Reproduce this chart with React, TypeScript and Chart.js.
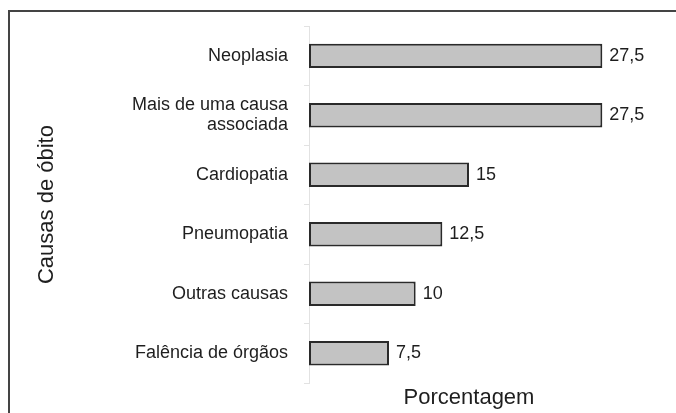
import React, { useEffect, useRef } from "react";
import { Chart, registerables } from "chart.js";

Chart.register(...registerables);

const categories: (string | string[])[] = [
  "Neoplasia",
  ["Mais de uma causa", "associada"],
  "Cardiopatia",
  "Pneumopatia",
  "Outras causas",
  "Falência de órgãos",
];
const percentages = [27.5, 27.5, 15, 12.5, 10, 7.5];
const xAxisTitle = "Porcentagem";
const yAxisTitle = "Causas de óbito";

const FONT = "'Liberation Sans', Arial, Helvetica, sans-serif";

const valueLabels = {
  id: "valueLabels",
  afterDatasetsDraw(chart: any) {
    const ctx = chart.ctx;
    const meta = chart.getDatasetMeta(0);
    ctx.save();
    ctx.font = `18px ${FONT}`;
    ctx.fillStyle = "#1e1e1e";
    ctx.textAlign = "left";
    ctx.textBaseline = "middle";
    meta.data.forEach((bar: any, i: number) => {
      const v = chart.data.datasets[0].data[i];
      ctx.fillText(String(v).replace(".", ","), bar.x + 7, bar.y);
    });
    ctx.restore();
  },
};

export default function App() {
  const ref = useRef<HTMLCanvasElement>(null);
  useEffect(() => {
    if (!ref.current) return;
    const chart = new Chart(ref.current, {
      type: "bar",
      data: {
        labels: categories,
        datasets: [
          {
            data: percentages,
            backgroundColor: "#c3c3c3",
            borderColor: "#2a2a2a",
            borderWidth: 2,
            borderSkipped: false,
            categoryPercentage: 1,
            barPercentage: 0.41,
          },
        ],
      },
      options: {
        indexAxis: "y",
        animation: false,
        responsive: false,
        maintainAspectRatio: false,
        layout: { padding: { left: 30, top: 22, right: 47, bottom: 1.8 } },
        plugins: { legend: { display: false }, tooltip: { enabled: false } },
        scales: {
          x: {
            min: 0,
            max: 30,
            grid: { display: false, drawTicks: false },
            border: { display: false },
            ticks: { display: false },
            title: {
              display: true,
              text: xAxisTitle,
              color: "#1e1e1e",
              font: { family: FONT, size: 22 },
              padding: { top: 1.8, bottom: 0 },
            },
          },
          y: {
            grid: {
              display: true,
              drawOnChartArea: false,
              offset: true,
              tickLength: 5,
              color: "#e2e2e2",
            },
            border: { display: true, color: "#e2e2e2", width: 1 },
            ticks: {
              color: "#1e1e1e",
              padding: 16,
              font: { family: FONT, size: 18, lineHeight: 1.12 },
            },
            title: {
              display: true,
              text: yAxisTitle,
              color: "#1e1e1e",
              font: { family: FONT, size: 22 },
              padding: { top: 4, bottom: 0 },
            },
            afterFit: (scale: any) => {
              scale.width = 279;
            },
          },
        },
      },
      plugins: [valueLabels],
    } as any);
    return () => chart.destroy();
  }, []);

  return (
    <div
      style={{
        position: "fixed",
        left: 0,
        top: 0,
        width: 676,
        height: 413,
        overflow: "hidden",
        background: "#fff",
      }}
    >
      <canvas ref={ref} width={676} height={413} style={{ width: 676, height: 413, display: "block" }} />
      <div
        style={{
          position: "absolute",
          left: 8,
          top: 10,
          width: 800,
          height: 600,
          borderLeft: "2px solid #444",
          borderTop: "2px solid #444",
          pointerEvents: "none",
        }}
      />
    </div>
  );
}
